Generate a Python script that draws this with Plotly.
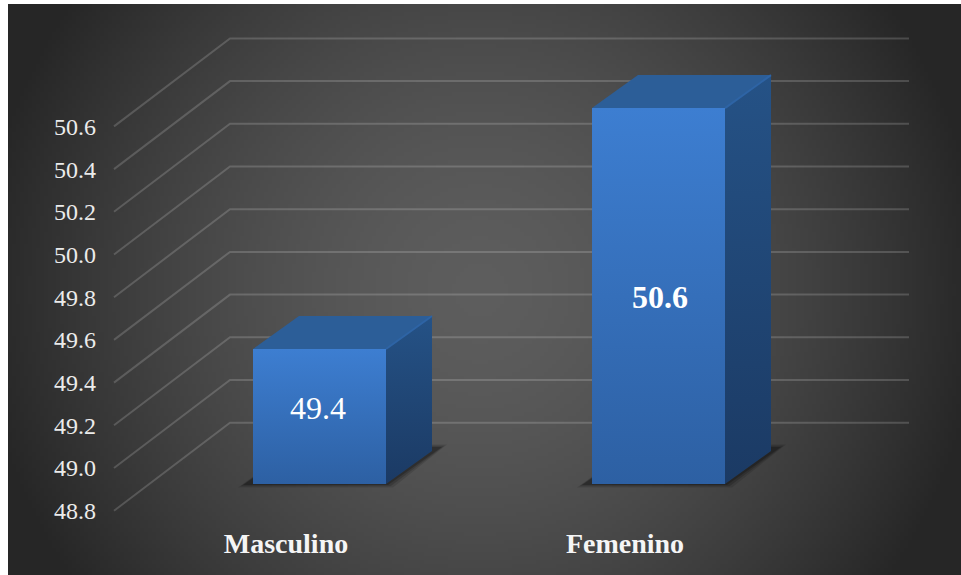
import numpy as np
import plotly.graph_objects as go

# Survey figures per category
CATEGORIES = ["Masculino", "Femenino"]
VALUES = [49.4, 50.6]
AXIS_TICKS = [48.8, 49.0, 49.2, 49.4, 49.6, 49.8, 50.0, 50.2, 50.4, 50.6]

W, H = 961, 575
SERIF = "Liberation Serif"

# Pixel scale of the back wall and of the plane holding the bar fronts
X0_PX, X_STEP = 286.0, 339.0
WALL_Y0_PX, WALL_SCALE = 510.7, 213.5
BAR_BASE_PX, BAR_SCALE = 484.0, 200.8
BAR_BASE = 48.728
BAR_WIDTH_PX = 133.0
BAR_LEFT_OFFSET_PX = -33.0
DEPTH_X_PX, DEPTH_Y_PX = 46.0, 33.0
WALL_DX_PX, WALL_DY_PX = 116.0, 88.0
FRONT_LEFT_PX, WALL_RIGHT_PX = 114.0, 909.0
PANEL_LEFT_PX, PANEL_TOP_PX = 8.0, 4.0


def x_of(px):
    return (np.asarray(px, dtype=float) - X0_PX) / X_STEP


def wall_of(py):
    return 48.8 + (WALL_Y0_PX - np.asarray(py, dtype=float)) / WALL_SCALE


fig = go.Figure()

# Dark radial backdrop; heatmap cells reach half a step past their centres
cell = 4.0
gx = np.arange(PANEL_LEFT_PX + cell / 2, W + cell, cell)
gy = np.arange(PANEL_TOP_PX + cell / 2, H + cell, cell)
xx, yy = np.meshgrid(gx, gy)
radius = np.hypot(xx - 480, yy - 290)
shade = 93 - 55 * np.minimum(1.0, radius / 500) ** 1.6
fig.add_trace(go.Heatmap(
    x=x_of(gx), y=wall_of(gy), z=shade, zmin=0, zmax=255,
    colorscale=[[0, "rgb(0,0,0)"], [1, "rgb(255,255,255)"]],
    showscale=False, hoverinfo="skip",
))

# Gridlines: floor-to-wall diagonal, then along the back wall
wall_rise = WALL_DY_PX / WALL_SCALE
for tick in AXIS_TICKS:
    fig.add_trace(go.Scatter(
        x=x_of([FRONT_LEFT_PX, FRONT_LEFT_PX + WALL_DX_PX, WALL_RIGHT_PX]),
        y=[tick, tick + wall_rise, tick + wall_rise],
        mode="lines", line=dict(color="rgba(255,255,255,0.17)", width=2),
        showlegend=False, hoverinfo="skip",
    ))

# Soft floor shadows under each bar
for i in range(len(VALUES)):
    x_left = X0_PX + i * X_STEP + BAR_LEFT_OFFSET_PX
    x_right = x_left + BAR_WIDTH_PX
    for grow, alpha in ((5, 0.12), (2.5, 0.16), (0, 0.22)):
        fig.add_trace(go.Scatter(
            x=x_of([x_left - 10 - grow, x_right + 2 + grow, x_right + 56 + grow, x_left + 45]),
            y=wall_of([BAR_BASE_PX + 1 + grow / 2, BAR_BASE_PX + 1 + grow / 2,
                       BAR_BASE_PX - 37 - grow / 2, BAR_BASE_PX - 37 - grow / 2]),
            mode="lines", fill="toself", fillcolor=f"rgba(0,0,0,{alpha})",
            line=dict(width=0), showlegend=False, hoverinfo="skip",
        ))

# Bar fronts
bar_w = BAR_WIDTH_PX / X_STEP
bar_off = BAR_LEFT_OFFSET_PX / X_STEP
fig.add_trace(go.Bar(
    x=list(range(len(VALUES))), y=[v - BAR_BASE for v in VALUES], base=BAR_BASE,
    width=bar_w, offset=bar_off, yaxis="y2",
    marker=dict(color="rgb(52,110,185)", line=dict(width=0)),
    showlegend=False, hoverinfo="skip",
))

dx = DEPTH_X_PX / X_STEP
dy = DEPTH_Y_PX / BAR_SCALE
for i, v in enumerate(VALUES):
    xl = i + bar_off
    xr = xl + bar_w
    # Front face shading
    fig.add_trace(go.Scatter(
        x=[xl, xr, xr, xl, xl], y=[BAR_BASE, BAR_BASE, v, v, BAR_BASE], yaxis="y2",
        mode="lines", line=dict(width=0), fill="toself",
        fillgradient=dict(type="vertical", start=v, stop=BAR_BASE,
                          colorscale=[[0, "rgb(61,126,209)"], [1, "rgb(45,96,163)"]]),
        showlegend=False, hoverinfo="skip",
    ))
    # Right side face
    fig.add_trace(go.Scatter(
        x=[xr, xr + dx, xr + dx, xr, xr],
        y=[BAR_BASE, BAR_BASE + dy, v + dy, v, BAR_BASE], yaxis="y2",
        mode="lines", line=dict(width=0), fill="toself",
        fillgradient=dict(type="vertical", start=v + dy, stop=BAR_BASE,
                          colorscale=[[0, "rgb(37,82,134)"], [1, "rgb(27,58,100)"]]),
        showlegend=False, hoverinfo="skip",
    ))
    # Top face
    fig.add_trace(go.Scatter(
        x=[xl, xr, xr + dx, xl + dx, xl], y=[v, v, v + dy, v + dy, v], yaxis="y2",
        mode="lines", line=dict(width=0), fill="toself", fillcolor="rgb(44,94,152)",
        showlegend=False, hoverinfo="skip",
    ))
    # Bevelled edge between the top and side faces
    fig.add_trace(go.Scatter(
        x=[xr, xr + dx], y=[v, v + dy], yaxis="y2",
        mode="lines", line=dict(color="rgb(46,100,165)", width=2),
        showlegend=False, hoverinfo="skip",
    ))

# Value labels on the bar fronts
label_dx = [0, 3]
label_dy = [9, -1]
label_weight = ["normal", "bold"]
annotations = []
for i, v in enumerate(VALUES):
    annotations.append(dict(
        x=i + bar_off + bar_w / 2 - 0.003, y=(BAR_BASE + v) / 2, xref="x", yref="y2",
        xshift=label_dx[i], yshift=label_dy[i], text=f"{v:.1f}", showarrow=False,
        font=dict(family=SERIF, size=32, color="white", weight=label_weight[i]),
    ))

fig.update_layout(
    width=W, height=H, margin=dict(l=0, r=0, t=0, b=0), autosize=False,
    paper_bgcolor="white", plot_bgcolor="rgba(0,0,0,0)", showlegend=False,
    bargap=0, annotations=annotations,
    xaxis=dict(
        domain=[0, 1], range=[float(x_of(0)), float(x_of(W))],
        tickmode="array", tickvals=list(range(len(CATEGORIES))), ticktext=CATEGORIES,
        tickfont=dict(family=SERIF, size=28, color="rgb(245,245,245)", weight="bold"),
        showgrid=False, zeroline=False, showline=False, ticks="",
        anchor="free", position=1 - 523.5 / H,
    ),
    yaxis=dict(
        domain=[0, 1], range=[float(wall_of(H)), float(wall_of(0))],
        tickmode="array", tickvals=AXIS_TICKS, ticktext=[f"{t:.1f}" for t in AXIS_TICKS],
        tickfont=dict(family=SERIF, size=24, color="rgb(235,235,235)"),
        showgrid=False, zeroline=False, showline=False, ticks="",
        anchor="free", position=96 / W,
    ),
    yaxis2=dict(
        domain=[0, 1], overlaying="y", visible=False,
        range=[BAR_BASE + (BAR_BASE_PX - H) / BAR_SCALE, BAR_BASE + BAR_BASE_PX / BAR_SCALE],
    ),
)

fig.write_html("out.html", config=dict(displayModeBar=False))
